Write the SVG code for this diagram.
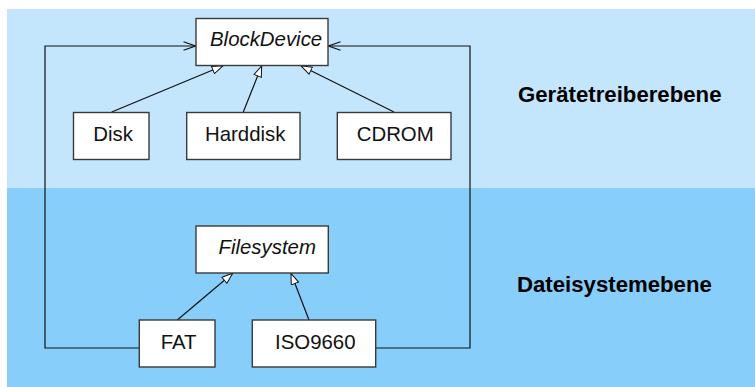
<svg xmlns="http://www.w3.org/2000/svg" width="755" height="387" viewBox="0 0 755 387">
  <style>
    .box { fill: #ffffff; stroke: #3a3a3a; stroke-width: 1.4; }
    .lbl { font-family: "Liberation Sans", Arial, sans-serif; font-size: 20.4px; fill: #111; }
    .abs { font-style: italic; }
    .layer { font-family: "Liberation Sans", Arial, sans-serif; font-size: 22.2px; font-weight: bold; fill: #000; }
    .conn { fill: none; stroke: #111; stroke-width: 1.2; }
  </style>
  <defs>
    <marker id="inh" viewBox="0 0 12 9" refX="11.5" refY="4.5" markerWidth="12" markerHeight="9" markerUnits="userSpaceOnUse" orient="auto">
      <path d="M0.6,0.6 L11.5,4.5 L0.6,8.4 Z" fill="#ffffff" stroke="#111" stroke-width="1"/>
    </marker>
    <marker id="open" viewBox="0 0 13 10" refX="12.5" refY="5" markerWidth="13" markerHeight="10" markerUnits="userSpaceOnUse" orient="auto">
      <path d="M0.5,0.8 L12.5,5 L0.5,9.2" fill="none" stroke="#111" stroke-width="1.1"/>
    </marker>
  </defs>

  <rect x="7" y="9" width="748" height="179" fill="#c4e6fd"/>
  <rect x="7" y="188" width="748" height="199" fill="#87cefa"/>

  <text class="layer" x="518" y="102">Gerätetreiberebene</text>
  <text class="layer" x="517" y="292">Dateisystemebene</text>

  <g id="connectors">
    <polyline class="conn" points="139,348 45,348 45,46 195.5,46" marker-end="url(#open)"/>
    <polyline class="conn" points="375.5,348 470,348 470,46 328.5,46" marker-end="url(#open)"/>
    <line class="conn" x1="111.7" y1="112" x2="223" y2="65.8" marker-end="url(#inh)"/>
    <line class="conn" x1="243.3" y1="112" x2="261.7" y2="65.8" marker-end="url(#inh)"/>
    <line class="conn" x1="394" y1="112" x2="301" y2="65.8" marker-end="url(#inh)"/>
    <line class="conn" x1="177.3" y1="320" x2="232.7" y2="273.3" marker-end="url(#inh)"/>
    <line class="conn" x1="309" y1="320" x2="291" y2="273.3" marker-end="url(#inh)"/>
  </g>

  <g id="BlockDevice">
    <rect class="box" x="196" y="18.5" width="132" height="47"/>
    <text class="lbl abs" x="210" y="46">BlockDevice</text>
  </g>
  <g id="Disk">
    <rect class="box" x="73.5" y="112.5" width="75.5" height="47"/>
    <text class="lbl" x="93.3" y="141">Disk</text>
  </g>
  <g id="Harddisk">
    <rect class="box" x="186.7" y="112.5" width="113.3" height="47"/>
    <text class="lbl" x="205" y="141">Harddisk</text>
  </g>
  <g id="CDROM">
    <rect class="box" x="337.3" y="112.5" width="113.7" height="47"/>
    <text class="lbl" x="356.7" y="141">CDROM</text>
  </g>
  <g id="Filesystem">
    <rect class="box" x="196" y="226" width="132.3" height="47"/>
    <text class="lbl abs" x="218.5" y="253.7">Filesystem</text>
  </g>
  <g id="FAT">
    <rect class="box" x="139.3" y="320" width="75.7" height="47"/>
    <text class="lbl" x="160.7" y="348.7">FAT</text>
  </g>
  <g id="ISO9660">
    <rect class="box" x="252.3" y="320" width="123.4" height="47"/>
    <text class="lbl" x="275" y="348.7">ISO9660</text>
  </g>
</svg>
